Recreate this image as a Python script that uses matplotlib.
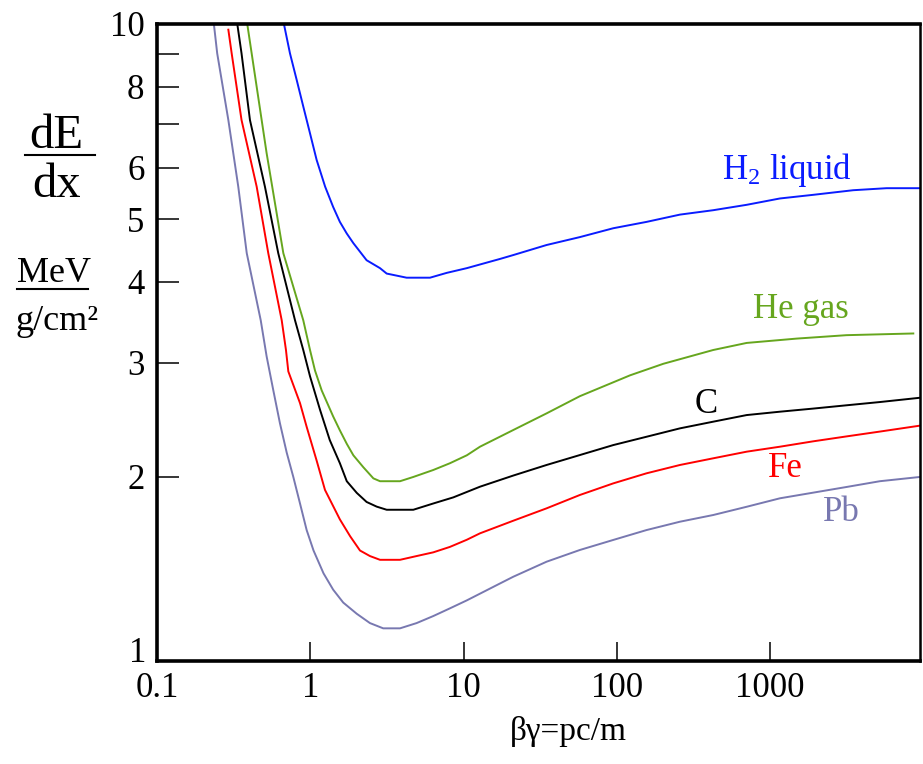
import matplotlib
matplotlib.use('Agg')
import matplotlib.pyplot as plt
from matplotlib.lines import Line2D

# ---- energy loss curves (dE/dx in MeV g^-1 cm^2 vs beta*gamma) ----
h2_bg = [0.673, 0.737, 0.815, 0.900, 0.996, 1.10, 1.25, 1.41, 1.56, 1.73, 1.91, 2.33, 2.85, 3.15, 3.48,
         4.25, 4.94, 6.04, 7.76, 10.5, 13.5, 17.3, 21.1, 34.8, 57.4, 94.8, 156, 258, 425, 703, 1159,
         1910, 3483, 5750, 9490]
h2_dedx = [10, 9.01, 8.20, 7.46, 6.78, 6.17, 5.61, 5.22, 4.95, 4.75, 4.59, 4.32, 4.20, 4.12, 4.10,
           4.06, 4.06, 4.06, 4.13, 4.20, 4.27, 4.34, 4.40, 4.56, 4.69, 4.84, 4.95, 5.08, 5.16, 5.26, 5.38,
           5.45, 5.54, 5.58, 5.58]

he_bg = [0.388, 0.519, 0.667, 0.900, 0.996, 1.073, 1.187, 1.41, 1.56, 1.73, 1.91, 2.22, 2.58, 2.85,
         3.85, 4.70, 6.34, 8.15, 10.5, 12.8, 21.1, 34.8, 57.4, 122, 201, 425, 703, 1490,
         3150, 8590]
he_dedx = [10, 6.32, 4.43, 3.49, 3.14, 2.92, 2.72, 2.48, 2.36, 2.25, 2.16, 2.07, 1.99, 1.97,
           1.97, 2.00, 2.05, 2.10, 2.16, 2.227, 2.363, 2.507, 2.665, 2.87, 2.99, 3.14, 3.22, 3.27,
           3.31, 3.33]

c_bg = [0.334, 0.356, 0.404, 0.506, 0.618, 0.795, 0.900, 0.996, 1.157, 1.34, 1.56, 1.73, 2.01, 2.33,
        2.71, 3.15, 4.70, 6.34, 8.57, 12.8, 21.1, 34.8, 57.4, 94.8, 156, 258, 425, 703, 1159,
        1910, 3150, 5200, 9490]
c_dedx = [10, 9.01, 7.11, 5.61, 4.43, 3.49, 3.14, 2.86, 2.54, 2.28, 2.10, 1.97, 1.89, 1.83,
          1.80, 1.78, 1.78, 1.82, 1.86, 1.932, 2.01, 2.087, 2.162, 2.24, 2.307, 2.377, 2.434, 2.492, 2.522,
          2.55, 2.58, 2.61, 2.65]

fe_bg = [0.292, 0.307, 0.356, 0.447, 0.532, 0.651, 0.694, 0.719, 0.857, 0.947, 1.10, 1.247, 1.56, 1.82,
         2.11, 2.45, 2.85, 3.85, 4.94, 6.34, 8.15, 10.5, 12.8, 21.1, 34.8, 57.4, 94.8, 156, 258,
         425, 703, 1159, 1910, 3150, 5200, 9490]
fe_dedx = [9.8, 9.01, 7.11, 5.61, 4.43, 3.49, 3.14, 2.91, 2.60, 2.39, 2.12, 1.91, 1.72, 1.62,
           1.54, 1.51, 1.49, 1.49, 1.51, 1.53, 1.56, 1.60, 1.637, 1.712, 1.789, 1.876, 1.955, 2.026, 2.087,
           2.137, 2.188, 2.227, 2.27, 2.31, 2.35, 2.40]

pb_bg = [0.235, 0.247, 0.292, 0.339, 0.385, 0.475, 0.519, 0.574, 0.634, 0.702, 0.775, 0.857, 0.947,
         1.05, 1.22, 1.41, 1.64, 2.01, 2.45, 2.99, 3.85, 4.94, 6.34, 8.15, 10.5, 17.3, 21.1, 34.8,
         57.4, 94.8, 156, 258, 425, 703, 1159, 3150, 5200, 9490]
pb_dedx = [10, 9.01, 7.11, 5.61, 4.43, 3.49, 3.07, 2.72, 2.42, 2.18, 2.00, 1.82, 1.656,
           1.54, 1.42, 1.34, 1.28, 1.23, 1.19, 1.168, 1.168, 1.19, 1.22, 1.254, 1.29, 1.37, 1.403, 1.48,
           1.543, 1.599, 1.656, 1.706, 1.747, 1.799, 1.854, 1.93, 1.97, 2.00]

x_ticks = [0.1, 1, 10, 100, 1000]
x_tick_labels = ['0.1', '1', '10', '100', '1000']
y_ticks = [2, 3, 4, 5, 6, 7, 8, 9, 10]
y_tick_labels = ['2', '3', '4', '5', '6', '', '8', '', '10']

plt.rcParams['font.family'] = ['Liberation Serif', 'DejaVu Serif']
plt.rcParams['mathtext.fontset'] = 'custom'
plt.rcParams['mathtext.rm'] = 'Liberation Serif'
plt.rcParams['mathtext.it'] = 'Liberation Serif:italic'

W, H = 923, 764
fig = plt.figure(figsize=(W / 100, H / 100), dpi=100)
ax = fig.add_axes([157 / W, 1 - 661 / H, (920 - 157) / W, (661 - 24) / H])

curves = [
    (h2_bg, h2_dedx, '#0a1cff'),
    (he_bg, he_dedx, '#66a61e'),
    (c_bg, c_dedx, 'black'),
    (fe_bg, fe_dedx, '#ff0000'),
    (pb_bg, pb_dedx, '#7878b0'),
]
for xs, ys, col in curves:
    ax.plot(xs, ys, color=col, lw=1.4, solid_joinstyle='round')

ax.set_xscale('log')
ax.set_yscale('log')
ax.set_xlim(0.1, 9500)
ax.set_ylim(1.04, 10)

ax.set_xticks(x_ticks, x_tick_labels)
ax.set_yticks(y_ticks, y_tick_labels)
ax.minorticks_off()
ax.tick_params(axis='both', direction='in', width=1.1, labelsize=25, colors='black')
ax.tick_params(axis='x', length=14, pad=8)
ax.tick_params(axis='y', length=16, pad=9)

for side in ['left', 'bottom', 'top']:
    ax.spines[side].set_linewidth(2.6)
ax.spines['right'].set_linewidth(1.8)

# the bottom label sits in the corner
ax.text(-0.014, 0.012, '1', transform=ax.transAxes, ha='right', va='center', fontsize=25)

# curve labels
ax.text(1288, 5.95, 'H$_2$ liquid', color='#0a1cff', fontsize=25, ha='center', va='center')
ax.text(1589, 3.62, 'He gas', color='#66a61e', fontsize=25, ha='center', va='center')
ax.text(381, 2.59, 'C', color='black', fontsize=25, ha='center', va='center')
ax.text(1250, 2.06, 'Fe', color='#ff0000', fontsize=25, ha='center', va='center')
ax.text(2937, 1.76, 'Pb', color='#7878b0', fontsize=25, ha='center', va='center')


def fx(px):
    return px / W


def fy(py):
    return 1 - py / H


# y-axis label drawn as two stacked fractions
fig.text(fx(56), fy(148), 'dE', fontsize=35, ha='center', va='baseline')
fig.add_artist(Line2D([fx(25), fx(95)], [fy(155), fy(155)], color='black', lw=1.5))
fig.text(fx(57), fy(197), 'dx', fontsize=35, ha='center', va='baseline')

fig.text(fx(54), fy(282), 'MeV', fontsize=26, ha='center', va='baseline')
fig.add_artist(Line2D([fx(17), fx(88)], [fy(289), fy(289)], color='black', lw=1.5))
fig.text(fx(57), fy(330), 'g/cm²', fontsize=26, ha='center', va='baseline')

fig.text(fx(568), fy(740), 'βγ=pc/m', fontsize=24, ha='center', va='baseline')

fig.savefig('out.png', dpi=100)
